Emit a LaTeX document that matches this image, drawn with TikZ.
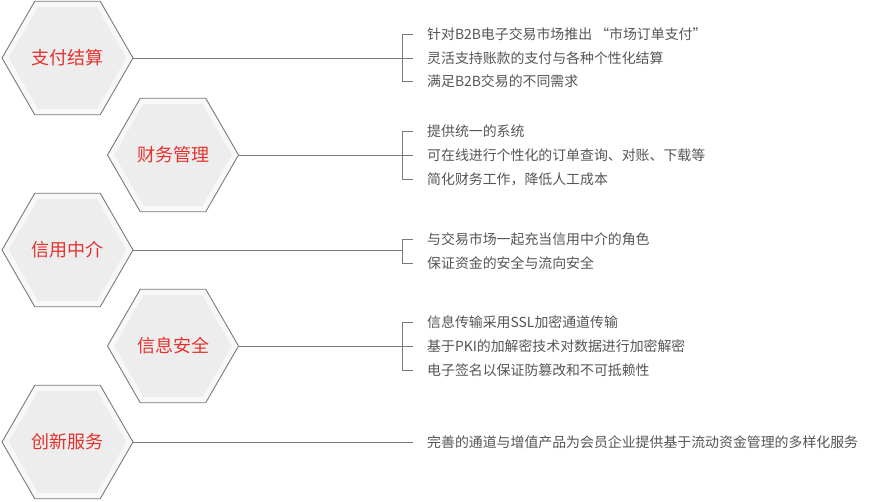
\documentclass[tikz,border=0pt]{standalone}
\usepackage{fontspec}
\newfontfamily\cjk{Noto Sans CJK SC}
\usetikzlibrary{shapes.geometric}
\definecolor{hexline}{HTML}{7A7A7A}
\definecolor{hexband}{HTML}{F8F8F8}
\definecolor{hexfill}{HTML}{EDEDED}
\definecolor{hexred}{HTML}{E3322D}
\definecolor{itemgray}{HTML}{555555}

\begin{document}
\begin{tikzpicture}[
		x=1pt,y=-1pt,
		hexout/.style={regular polygon,regular polygon sides=6,minimum size=131pt,
			inner sep=0pt,outer sep=0pt,draw=hexline,fill=hexband,line width=0.9pt},
		hexin/.style={regular polygon,regular polygon sides=6,minimum size=117pt,
			inner sep=0pt,fill=hexfill,text=hexred,node font=\cjk\fontsize{18}{20}\selectfont},
		item/.style={anchor=west,inner sep=0pt,text=itemgray,
			node font=\cjk\fontsize{13.9}{16}\selectfont},
		link/.style={draw=hexline,line width=0.9pt},
	]
	\useasboundingbox (0,0) rectangle (870,501);
	%
	% hexagons
	\node[hexout] (pay)     at (67.5,58)  {};
	\node[hexin]  (paytxt)  at (pay)      {支付结算};
	\node[hexout] (fin)     at (173,155)  {};
	\node[hexin]  (fintxt)  at (fin)      {财务管理};
	\node[hexout] (credit)  at (67.5,250) {};
	\node[hexin]  (credtxt) at (credit)   {信用中介};
	\node[hexout] (secure)  at (173,346)  {};
	\node[hexin]  (sectxt)  at (secure)   {信息安全};
	\node[hexout] (innov)   at (67.5,442) {};
	\node[hexin]  (innotxt) at (innov)    {创新服务};
	%
	% items
	\node[item] (pay1) at (427,34.5) {针对B2B电子交易市场推出 “市场订单支付”};
	\node[item] (pay2) at (427,58)   {灵活支持账款的支付与各种个性化结算};
	\node[item] (pay3) at (427,81.5) {满足B2B交易的不同需求};
	\node[item] (fin1) at (427,131)  {提供统一的系统};
	\node[item] (fin2) at (427,155)  {可在线进行个性化的订单查询、对账、下载等};
	\node[item] (fin3) at (427,179)  {简化财务工作，降低人工成本};
	\node[item] (cred1) at (427,239) {与交易市场一起充当信用中介的角色};
	\node[item] (cred2) at (427,263) {保证资金的安全与流向安全};
	\node[item] (sec1) at (427,322)  {信息传输采用SSL加密通道传输};
	\node[item] (sec2) at (427,346)  {基于PKI的加解密技术对数据进行加密解密};
	\node[item] (sec3) at (427,370)  {电子签名以保证防篡改和不可抵赖性};
	\node[item] (inno1) at (427,442) {完善的通道与增值产品为会员企业提供基于流动资金管理的多样化服务};
	%
	\coordinate (credbrk) at (402,250);
	% connectors and brackets
	\draw[link] (pay.east) -- ([xshift=-14pt]pay2.west);
	\draw[link] ([xshift=-14pt]pay1.west) -| ([xshift=-25pt]pay3.west) -- ([xshift=-14pt]pay3.west);
	\draw[link] (fin.east) -- ([xshift=-14pt]fin2.west);
	\draw[link] ([xshift=-14pt]fin1.west) -| ([xshift=-25pt]fin3.west) -- ([xshift=-14pt]fin3.west);
	\draw[link] (credit.east) -- (credbrk);
	\draw[link] ([xshift=-14pt]cred1.west) -| ([xshift=-25pt]cred2.west) -- ([xshift=-14pt]cred2.west);
	\draw[link] (secure.east) -- ([xshift=-14pt]sec2.west);
	\draw[link] ([xshift=-14pt]sec1.west) -| ([xshift=-25pt]sec3.west) -- ([xshift=-14pt]sec3.west);
	\draw[link] (innov.east) -- ([xshift=-14pt]inno1.west);
\end{tikzpicture}
\end{document}
